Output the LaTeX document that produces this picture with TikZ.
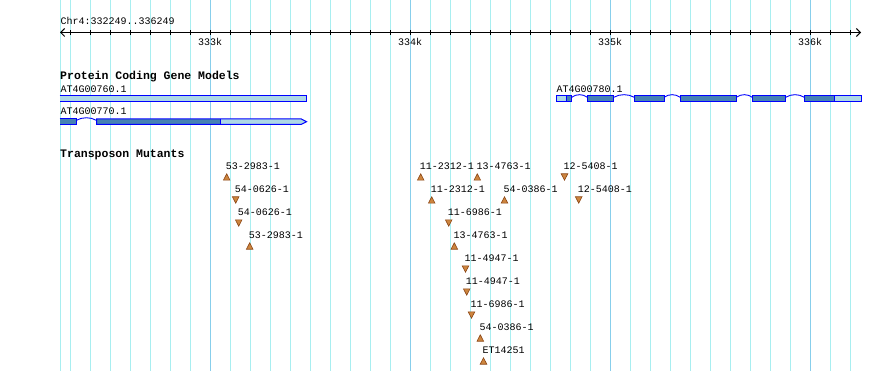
\documentclass[tikz,border=0pt]{standalone}
\usepackage{fontspec}
\setmonofont{Liberation Mono}
\usetikzlibrary{arrows.meta}
\definecolor{gridc}{HTML}{A8EEF0}
\definecolor{gridmaj}{HTML}{87CEEB}
\definecolor{exonborder}{HTML}{0000FF}
\definecolor{cdsfill}{HTML}{4682B4}
\definecolor{utrfill}{HTML}{ADD8E6}
\definecolor{trifill}{HTML}{CD853F}
\definecolor{triedge}{HTML}{8B4513}
\newcommand\mutup[4]{%
  \pgfmathsetmacro\myb{169.5+23*(#3-1)}%
  \node[lab] (#1) at ({#2-1},\myb) {#4};%
  \filldraw[tri] (#2,\myb+4.3) -- (#2+3.3,\myb+10.7) -- (#2-3.3,\myb+10.7) -- cycle;}
\newcommand\mutdown[4]{%
  \pgfmathsetmacro\myb{169.5+23*(#3-1)}%
  \node[lab] (#1) at ({#2-1},\myb) {#4};%
  \filldraw[tri] (#2,\myb+10.7) -- (#2+3.3,\myb+4.3) -- (#2-3.3,\myb+4.3) -- cycle;}
\newcommand\intronhat[4]{% x1, x2, ybase, ypeak
  \draw[intronline] (#1,#3) .. controls ({#1+(#2-#1)*0.3},#4) and ({#2-(#2-#1)*0.3},#4) .. (#2,#3);}
\begin{document}
\begin{tikzpicture}[x=1pt,y=-1pt,
  lab/.style={font=\ttfamily\fontsize{10}{10}\selectfont, inner sep=0pt, anchor=base west},
  axlab/.style={font=\ttfamily\fontsize{10}{10}\selectfont, inner sep=0pt, anchor=base},
  head/.style={font=\ttfamily\bfseries\fontsize{11.5}{11.5}\selectfont, inner sep=0pt, anchor=base west},
  tri/.style={fill=trifill, draw=triedge, line width=0.6pt, line join=miter},
  exonline/.style={draw=exonborder, line width=1pt},
  intronline/.style={draw=exonborder, line width=0.9pt},
  gridline/.style={gridc, line width=1pt},
  majline/.style={gridmaj, line width=1pt}]
\useasboundingbox (0,0) rectangle (890,371);
\fill[white] (0,0) rectangle (890,371);
% grid
\draw[gridline] (60.5,0) -- (60.5,371);
\foreach \x in {70,90,...,850} \draw[gridline] (\x+0.5,0) -- (\x+0.5,371);
\foreach \x in {210,410,610,810} \draw[majline] (\x+0.5,0) -- (\x+0.5,371);
% axis
\coordinate (axl) at (60,32.5);
\coordinate (axr) at (861,32.5);
\draw[line width=1pt, {Straight Barb[length=4pt,width=8pt]}-{Straight Barb[length=4pt,width=8pt]}] (axl) -- (axr);
\foreach \x in {70,90,...,850} \draw[line width=1pt] (\x+0.5,30) -- (\x+0.5,35);
\node[lab] (chr) at (60.5,25) {Chr4:332249..336249};
\node[axlab] (k333) at (210,46) {333k};
\node[axlab] (k334) at (410,46) {334k};
\node[axlab] (k335) at (610,46) {335k};
\node[axlab] (k336) at (810,46) {336k};
% gene models
\node[head] (pcgm) at (60,80) {Protein Coding Gene Models};
\node[lab] (g760) at (60.5,92.3) {AT4G00760.1};
\fill[utrfill] (59.5,95.5) rectangle (306.5,102);
\draw[exonline] (59.5,95.5) -- (306.5,95.5) -- (306.5,102) -- (59.5,102);
\node[lab] (g770) at (60.5,115) {AT4G00770.1};
\fill[cdsfill] (59.5,118.8) rectangle (76,124.5);
\draw[exonline] (59.5,118.8) -- (76,118.8) -- (76,124.5) -- (59.5,124.5);
\intronhat{76}{96.7}{120.5}{116.8}
\fill[cdsfill] (96.7,118.8) rectangle (220.3,124.5);
\fill[utrfill] (220.3,118.8) -- (301,118.8) -- (306.5,121.7) -- (301,124.5) -- (220.3,124.5) -- cycle;
\draw[exonline] (96.7,118.8) -- (301,118.8) -- (306.5,121.7) -- (301,124.5) -- (96.7,124.5) -- cycle;
\draw[exonline] (220.3,118.8) -- (220.3,124.5);
\node[lab] (g780) at (556.5,92.3) {AT4G00780.1};
\fill[utrfill] (556.5,95.5) rectangle (566.7,102);
\fill[cdsfill] (566.7,95.5) rectangle (571.7,102);
\draw[exonline] (556.5,95.5) rectangle (571.7,102);
\draw[exonline] (566.7,95.5) -- (566.7,102);
\intronhat{571.7}{587.3}{97.3}{93.8}
\filldraw[cdsfill, exonline] (587.3,95.5) rectangle (613.7,102);
\intronhat{613.7}{634.3}{97.3}{93.8}
\filldraw[cdsfill, exonline] (634.3,95.5) rectangle (664,102);
\intronhat{664}{680.3}{97.3}{93.8}
\filldraw[cdsfill, exonline] (680.3,95.5) rectangle (736.3,102);
\intronhat{736.3}{752.3}{97.3}{93.8}
\filldraw[cdsfill, exonline] (752.3,95.5) rectangle (785.7,102);
\intronhat{785.7}{804.3}{97.3}{93.8}
\fill[cdsfill] (804.3,95.5) rectangle (834.7,102);
\fill[utrfill] (834.7,95.5) rectangle (861.2,102);
\draw[exonline] (804.3,95.5) rectangle (861.2,102);
\draw[exonline] (834.7,95.5) -- (834.7,102);
% transposon mutants
\node[head] (tm) at (60,157.7) {Transposon Mutants};
\mutup{m1a}{226.7}{1}{53-2983-1}
\mutup{m1b}{420.7}{1}{11-2312-1}
\mutup{m1c}{477.3}{1}{13-4763-1}
\mutdown{m1d}{564.5}{1}{12-5408-1}
\mutdown{m2a}{235.7}{2}{54-0626-1}
\mutup{m2b}{431.7}{2}{11-2312-1}
\mutup{m2c}{504.5}{2}{54-0386-1}
\mutdown{m2d}{578.7}{2}{12-5408-1}
\mutdown{m3a}{238.7}{3}{54-0626-1}
\mutdown{m3b}{448.7}{3}{11-6986-1}
\mutup{m4a}{249.7}{4}{53-2983-1}
\mutup{m4b}{454.3}{4}{13-4763-1}
\mutdown{m5}{465.5}{5}{11-4947-1}
\mutdown{m6}{466.7}{6}{11-4947-1}
\mutdown{m7}{471.5}{7}{11-6986-1}
\mutup{m8}{480.3}{8}{54-0386-1}
\mutup{m9}{483.5}{9}{ET14251}
\end{tikzpicture}
\end{document}
